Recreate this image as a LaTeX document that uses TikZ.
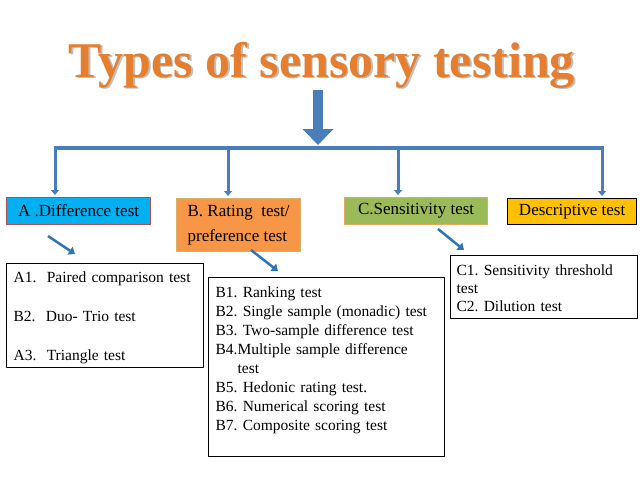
\documentclass[tikz,border=0pt]{standalone}
\usepackage{fontspec}
\setmainfont{Liberation Serif}
\usetikzlibrary{arrows.meta}
\definecolor{barblue}{HTML}{4A7EBB}
\definecolor{arrblue}{HTML}{2E75B6}
\definecolor{titleorange}{HTML}{E67E30}
\definecolor{hdcyan}{HTML}{00B0F0}
\definecolor{hdorange}{HTML}{F79646}
\definecolor{hdgreen}{HTML}{9BBB59}
\definecolor{hdgold}{HTML}{FFC000}
\definecolor{lineA}{HTML}{B0504D}
\definecolor{lineB}{HTML}{D9B06A}
\definecolor{lineC}{HTML}{E8A860}
\frenchspacing
\begin{document}
\begin{tikzpicture}[x=1pt, y=-1pt, line join=round, >=Stealth]
	\tikzset{head/.style={anchor=north west, minimum height=25pt, inner sep=0pt, line width=1.2pt, font=\fontsize{17}{25}\selectfont},
		listbox/.style={anchor=north west, draw=black, line width=1.3pt, align=left, inner xsep=7pt, inner ysep=1.5pt, font=\fontsize{15.5}{19}\selectfont},
		bus/.style={draw=barblue, line width=3.5pt},
		drop/.style={draw=barblue, line width=3pt, -{Triangle[width=8pt,length=5pt]}},
		tip/.style={draw=arrblue, line width=2.5pt, -{Triangle[width=9pt,length=6pt]}}}
	\def \ybus{148}
	\useasboundingbox (0,0) rectangle (642,479);
	\node[anchor=base, text=black!25, font=\fontsize{50}{50}\selectfont\bfseries] (shadow) at (323.5,78.5) {Types of sensory testing};
	\node[anchor=base, text=titleorange, font=\fontsize{50}{50}\selectfont\bfseries] (title) at (322,77) {Types of sensory testing};
	\coordinate (top) at (318,90);
	\coordinate (hub) at (318,145);
	\draw[draw=barblue, line width=10pt, -{Triangle[width=30pt,length=16pt]}] (top) -- (hub);
	\node[head, fill=hdcyan, draw=lineA, minimum width=144pt, minimum height=27pt] (hdA) at (6,197) {A .Difference test};
	\node[head, fill=hdorange, draw=lineB, minimum width=124pt, minimum height=53pt, align=left] (hdB) at (176,198) {B. Rating~ test/\\preference test};
	\node[head, fill=hdgreen, draw=lineC, minimum width=143pt, minimum height=27pt] (hdC) at (344,197) {C.Sensitivity test};
	\node[head, fill=hdgold, draw=black, minimum width=129pt, minimum height=26pt] (hdD) at (507,198) {Descriptive test};
	\foreach \x/\n in {55/A,228/B,398/C,602/D}
		{\coordinate (b\n) at (\x,\ybus);
		\draw[drop] (b\n) -- ([yshift=2pt]b\n |- hd\n.north);}
	\draw[bus] ([xshift=-1.5pt]bA) -- ([xshift=1.5pt]bD);
	\node[listbox, text width=183pt] (listA) at (6,263) {\rule{0pt}{17.5pt}A1.~ Paired comparison test\\[20pt]
		B2.~ Duo- Trio test\\[20pt]
		A3.~ Triangle test\rule[-5.5pt]{0pt}{0pt}};
	\node[listbox, text width=222pt] (listB) at (208,277) {\rule{0pt}{18.5pt}B1. Ranking test\\
		B2. Single sample (monadic) test\\
		B3. Two-sample difference test\\
		B4.Multiple sample difference\\
		\hspace*{22pt}test\\
		B5. Hedonic rating test.\\
		B6. Numerical scoring test\\
		B7. Composite scoring test\rule[-24.5pt]{0pt}{0pt}};
	\node[listbox, text width=175pt, inner xsep=6pt, font=\fontsize{15.5}{18}\selectfont] (listC) at (450,255) {\rule{0pt}{18.5pt}C1. Sensitivity threshold\\
		test\\
		C2. Dilution test\rule[-5.5pt]{0pt}{0pt}};
	\coordinate (sA) at (48,236);
	\coordinate (eA) at (75,254);
	\coordinate (sB) at (251,250);
	\coordinate (eB) at (278,271);
	\coordinate (sC) at (438,229);
	\coordinate (eC) at (464,250);
	\foreach \n in {A,B,C}
		\draw[tip] (s\n) -- (e\n);
\end{tikzpicture}
\end{document}
